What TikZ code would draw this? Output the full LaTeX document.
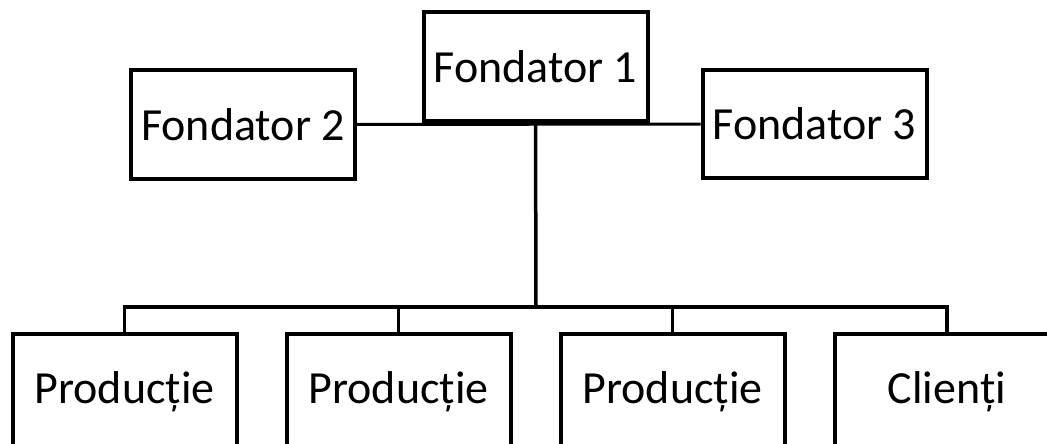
\documentclass[tikz,border=0pt]{standalone}
\usepackage{fontspec}
\setmainfont{Carlito}
\usetikzlibrary{positioning}

\begin{document}
\begin{tikzpicture}[x=1pt,y=-1pt,
  box/.style={draw, line width=4pt, minimum width=224pt, minimum height=108pt,
    inner sep=0pt, font=\fontsize{46}{55}\selectfont},
  dept/.style={box, minimum height=116pt},
  link/.style={line width=3.5pt}]
\useasboundingbox (0,0) rectangle (1047,444);
\clip (0,0) rectangle (1047,444);

% founders
\node [box] (fond1) at (535.5,66.5) {Fondator 1};
\node [box] (fond2) at (243,124.5) {Fondator 2};
\node [box] (fond3) at (814.5,124) {Fondator 3};

% departments
\node [dept] (prod1) at (124.5,392) {Producție};
\node [dept] (prod2) at (398.5,392) {Producție};
\node [dept] (prod3) at (672.5,392) {Producție};
\node [dept] (clienti) at (947,392) {Clienți};

\coordinate (bus) at (536,307);

\draw [line width=3pt] (fond2.east) -- (fond3.west);
\draw [link] (fond1.south) -- (bus);
\draw [link] (prod1.north) |- (bus) -| (clienti.north);
\draw [link] (prod2.north) -- (prod2.north |- bus);
\draw [link] (prod3.north) -- (prod3.north |- bus);
\end{tikzpicture}
\end{document}
